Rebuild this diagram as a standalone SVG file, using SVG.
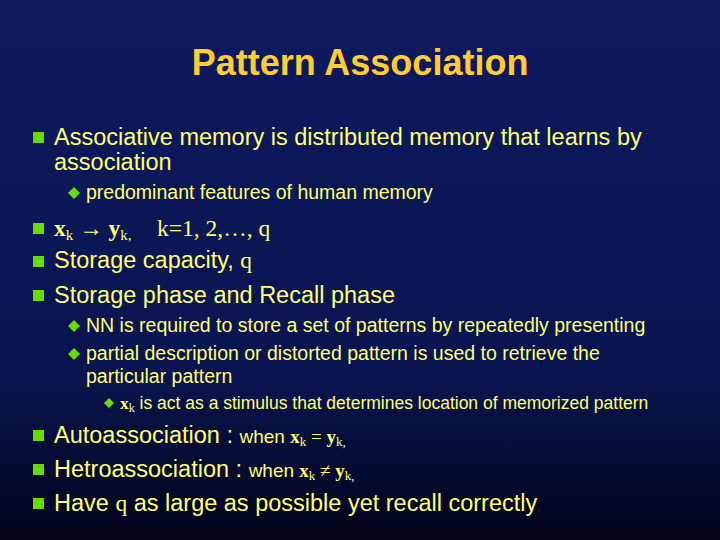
<svg xmlns="http://www.w3.org/2000/svg" width="720" height="540" viewBox="0 0 720 540">
<defs>
<linearGradient id="bg" x1="0" y1="0" x2="0" y2="1">
<stop offset="0" stop-color="#0d1a5e"/><stop offset="0.7" stop-color="#0a1450"/><stop offset="1" stop-color="#020418"/>
</linearGradient>
<style>
.t{font-family:"Liberation Sans",Arial,sans-serif;fill:#ffff70}
.m{font-size:23.5px}.s{font-size:19.5px}.ss{font-size:17.5px}
.r{font-family:"Liberation Serif","Times New Roman",serif}
.b{fill:#66dd00}
</style>
</defs>
<rect width="720" height="540" fill="url(#bg)"/>
<text x="360" y="75" text-anchor="middle" font-family="Liberation Sans,Arial,sans-serif" font-weight="bold" font-size="36" fill="#ffcc33">Pattern Association</text>
<g id="bullets">
<rect x="33" y="132" width="11" height="11" class="b"/>
<rect x="33" y="223" width="11" height="11" class="b"/>
<rect x="33" y="256" width="11" height="11" class="b"/>
<rect x="33" y="290" width="11" height="11" class="b"/>
<rect x="33" y="430" width="11" height="11" class="b"/>
<rect x="33" y="464" width="11" height="11" class="b"/>
<rect x="33" y="498" width="11" height="11" class="b"/>
<path d="M68 193l6-6 6 6-6 6z" class="b"/>
<path d="M68 326l6-6 6 6-6 6z" class="b"/>
<path d="M68 354l6-6 6 6-6 6z" class="b"/>
<path d="M104 403l5-5 5 5-5 5z" class="b"/>
</g>
<g id="text">
<text class="t m" x="54" y="145">Associative memory is distributed memory that learns by</text>
<text class="t m" x="54" y="170">association</text>
<text class="t s" x="86" y="199">predominant features of human memory</text>
<text class="t m" x="54" y="236"><tspan class="r" font-weight="bold">x</tspan><tspan class="r" font-size="15" dy="4">k</tspan><tspan class="r" dy="-4"> → </tspan><tspan class="r" font-weight="bold">y</tspan><tspan class="r" font-size="15" dy="4">k,</tspan><tspan class="r" x="157" dy="-4">k=1, 2,…, q</tspan></text>
<text class="t m" x="54" y="268">Storage capacity, <tspan class="r">q</tspan></text>
<text class="t m" x="54" y="303">Storage phase and Recall phase</text>
<text class="t s" x="86" y="332">NN is required to store a set of patterns by repeatedly presenting</text>
<text class="t s" x="86" y="360">partial description or distorted pattern is used to retrieve the</text>
<text class="t s" x="86" y="383">particular pattern</text>
<text class="t ss" x="120" y="409"><tspan class="r" font-weight="bold">x</tspan><tspan class="r" font-size="12" dy="3">k</tspan><tspan dy="-3"> is act as a stimulus that determines location of memorized pattern</tspan></text>
<text class="t m" x="54" y="443">Autoassociation : <tspan font-size="19">when </tspan><tspan class="r" font-weight="bold" font-size="19">x</tspan><tspan class="r" font-size="13" dy="3">k</tspan><tspan class="r" font-size="19" dy="-3"> = </tspan><tspan class="r" font-weight="bold" font-size="19">y</tspan><tspan class="r" font-size="13" dy="3">k,</tspan></text>
<text class="t m" x="54" y="477">Hetroassociation : <tspan font-size="19">when </tspan><tspan class="r" font-weight="bold" font-size="19">x</tspan><tspan class="r" font-size="13" dy="3">k</tspan><tspan class="r" font-size="19" dy="-3"> ≠ </tspan><tspan class="r" font-weight="bold" font-size="19">y</tspan><tspan class="r" font-size="13" dy="3">k,</tspan></text>
<text class="t m" x="54" y="511">Have <tspan class="r">q</tspan> as large as possible yet recall correctly</text>
</g>
</svg>
